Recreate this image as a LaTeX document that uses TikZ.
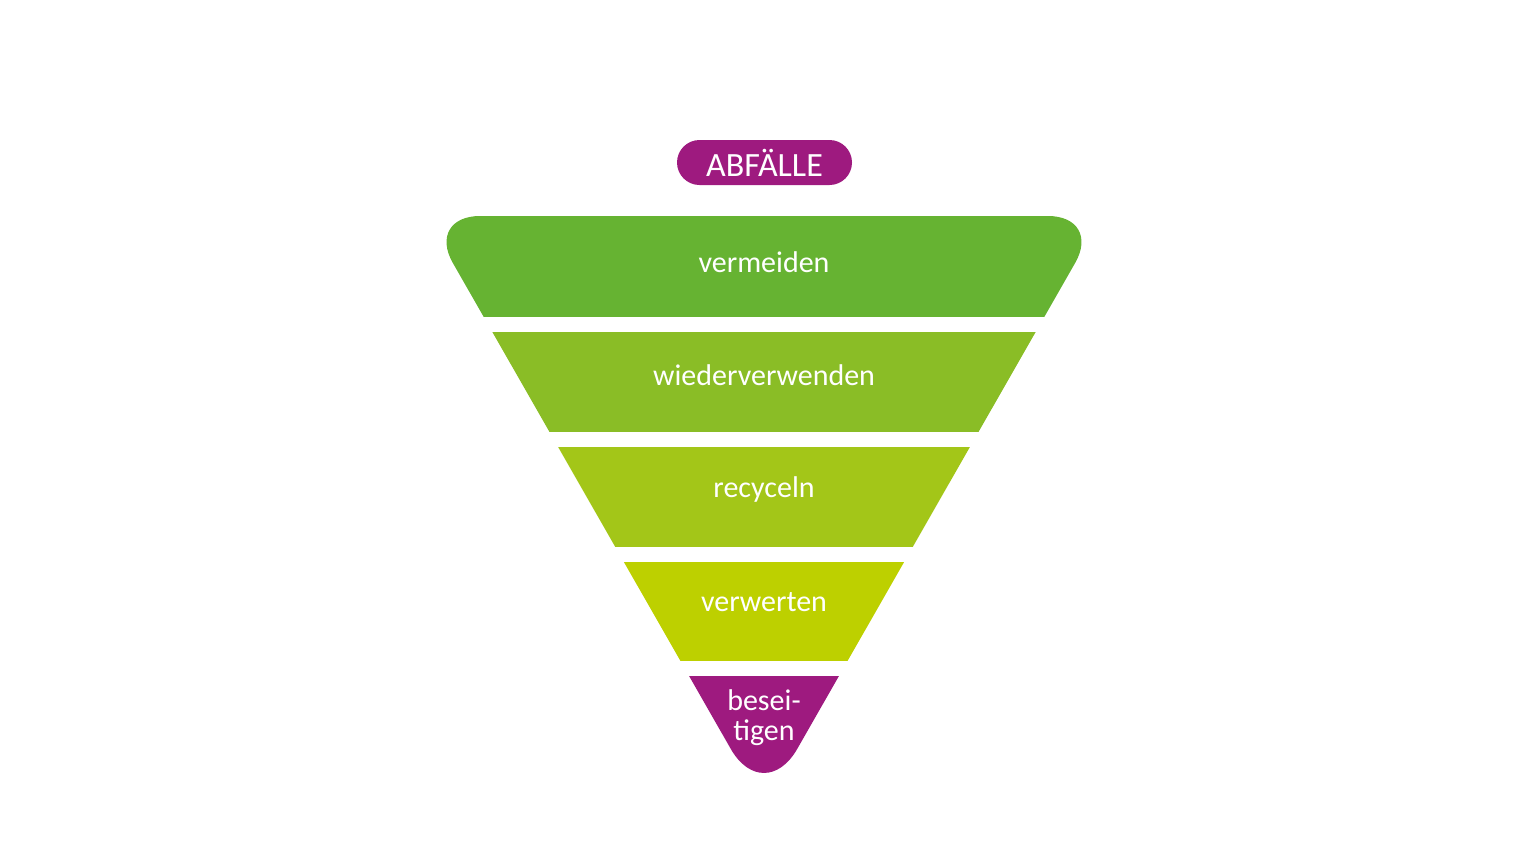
\documentclass[tikz,border=0pt]{standalone}
\usepackage{fontspec}
\setmainfont{Carlito}
\usepackage{tikz}
\definecolor{avoidgreen}{RGB}{102,179,50}
\definecolor{reusegreen}{RGB}{138,189,38}
\definecolor{recyclegreen}{RGB}{163,198,24}
\definecolor{recovergreen}{RGB}{189,208,0}
\definecolor{wastepurple}{RGB}{158,26,127}
\newcommand{\funnel}{
(764,216) -- (426,216) -- (764,807) -- (1102,216) -- cycle
}
\tikzset{
  label/.style={text=white, font=\fontsize{15}{15}\selectfont, inner sep=0},
  pill/.style={fill=wastepurple, text=white, font=\fontsize{17}{17}\selectfont,
    minimum width=87.5pt, minimum height=22.5pt, rounded corners=11.25pt, inner sep=0}
}

\begin{document}
\begin{tikzpicture}[x=0.5pt, y=-0.5pt]
\useasboundingbox (0,0) rectangle (1536,864);
\node[pill] (abfaelle) at (764.5,162.5) {ABFÄLLE};
\begin{scope}
\clip (0,216) rectangle (1536,316);
\fill[avoidgreen, rounded corners=27pt] \funnel;
\end{scope}
\begin{scope}
\clip (0,332) rectangle (1536,431);
\fill[reusegreen] \funnel;
\end{scope}
\begin{scope}
\clip (0,447) rectangle (1536,546);
\fill[recyclegreen] \funnel;
\end{scope}
\begin{scope}
\clip (0,562) rectangle (1536,660);
\fill[recovergreen] \funnel;
\end{scope}
\begin{scope}
\clip (0,676) rectangle (1536,864);
\fill[wastepurple, rounded corners=33.5pt] \funnel;
\end{scope}
\node[label] (vermeiden) at (764,262) {vermeiden};
\node[label] (wiederverwenden) at (764,375) {wiederverwenden};
\node[label] (recyceln) at (764,489) {recyceln};
\node[label] (verwerten) at (764,602) {verwerten};
\node[label, align=center] (beseitigen) at (764,718) {besei-\\tigen};
\end{tikzpicture}
\end{document}
